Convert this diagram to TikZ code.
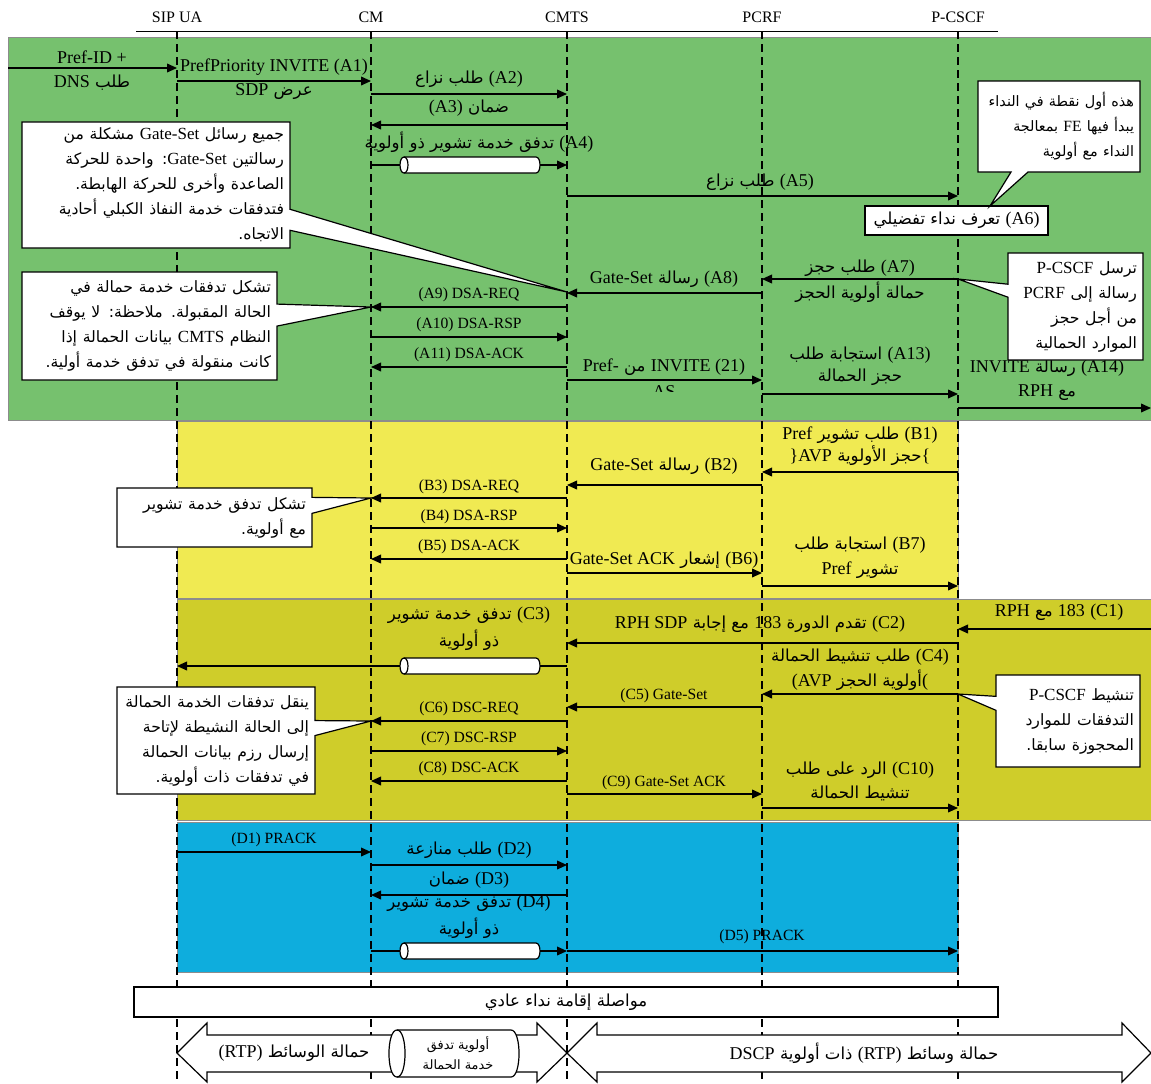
\documentclass[tikz,border=0pt]{standalone}
\usepackage{fontspec}
\setmainfont{Liberation Serif}
\newfontfamily\arabicfont[Script=Arabic,Scale=0.92]{DejaVu Sans}
\TeXXeTstate=1
\usetikzlibrary{arrows.meta,shapes.callouts}

\definecolor{grnzone}{RGB}{118,193,110}
\definecolor{ylwzone}{RGB}{240,234,82}
\definecolor{olvzone}{RGB}{207,205,42}
\definecolor{bluzone}{RGB}{14,173,221}

\newcommand\artx[1]{\mbox{\arabicfont\beginR #1\endR}}
\newcommand\lat[1]{\beginL{\rmfamily #1}\endL{}}

\tikzset{
    msg/.style={line width=0.6pt,-{Triangle[length=5pt,width=4.4pt]}},
    life/.style={line width=0.7pt,dash pattern=on 4pt off 2.5pt},
    lbl/.style={inner sep=0pt,font=\fontsize{9}{11}\selectfont},
    slbl/.style={inner sep=0pt,font=\fontsize{7.8}{9}\selectfont},
    note/.style={rectangle callout,draw,fill=white,line width=0.6pt,inner sep=3pt,
        align=right,font=\fontsize{8.5}{12.5}\selectfont},
    plainbox/.style={draw,fill=white,line width=0.6pt,inner sep=0pt,font=\fontsize{9}{11}\selectfont},
    zone/.style={draw=black!45,line width=0.5pt},
    pipe/.pic={
        \filldraw[fill=white,line width=0.6pt] (-66,-8) -- (66,-8)
            .. controls (71.3,-8) and (71.3,8) .. (66,8) -- (-66,8)
            .. controls (-71.3,8) and (-71.3,-8) .. (-66,-8) -- cycle;
        \draw[line width=0.6pt] (-66,-8) .. controls (-60.7,-8) and (-60.7,8) .. (-66,8);
    }
}

\begin{document}
\begin{tikzpicture}[x=0.5pt,y=-0.5pt]
\useasboundingbox (0,0) rectangle (1151,1083);
% Phases
\filldraw[zone,fill=grnzone] (8,37) rectangle (1151,420);
\filldraw[zone,fill=ylwzone] (177,421) rectangle (958,598);
\filldraw[zone,fill=olvzone] (177,599) rectangle (1151,820);
\filldraw[zone,fill=bluzone] (177,822) rectangle (958,972);
% Entities
\node[lbl,font=\fontsize{8}{9}\selectfont] (sipua) at (177,17) {SIP UA};
\node[lbl,font=\fontsize{8}{9}\selectfont] (cmhd) at (371,17) {CM};
\node[lbl,font=\fontsize{8}{9}\selectfont] (cmtshd) at (567,17) {CMTS};
\node[lbl,font=\fontsize{8}{9}\selectfont] (pcrfhd) at (762,17) {PCRF};
\node[lbl,font=\fontsize{8}{9}\selectfont] (pcscfhd) at (958,17) {P-CSCF};
\draw[line width=0.5pt] (136,31) -- (998,31);
\coordinate (sip) at (177,31);
\coordinate (cm) at (371,31);
\coordinate (cmts) at (567,31);
\coordinate (pcrf) at (762,31);
\coordinate (pcscf) at (958,31);
\coordinate (lft) at (8,31);
\coordinate (rgt) at (1151,31);
\foreach \l in {sip,cm,cmts,pcrf,pcscf}
    \draw[life] (\l) -- (\l |- 0,1083);

% Phase A
\draw[msg] (lft |- 0,68) -- (sip |- 0,68);
\node[lbl] (dnst) at (92,57) {Pref-ID +};
\node[lbl] (dnsb) at (92,83) {\artx{طلب \lat{DNS}}};
\draw[msg] (sip |- 0,81) -- (cm |- 0,81);
\node[lbl] (a1t) at (274,67) {PrefPriority INVITE (A1)};
\node[lbl] (a1b) at (274,92) {\artx{عرض \lat{SDP}}};
\draw[msg] (cm |- 0,94) -- (cmts |- 0,94);
\node[lbl] (a2) at (469,79) {\artx{\lat{(A2)} طلب نزاع}};
\draw[msg] (cmts |- 0,125) -- (cm |- 0,125);
\node[lbl] (a3) at (469,108) {\artx{ضمان \lat{(A3)}}};
\draw[msg] (cm |- 0,165) -- (cmts |- 0,165);
\pic at (470,165) {pipe};
\node[lbl] (a4) at (479,142) {\artx{\lat{(A4)} تدفق خدمة تشوير ذو أولوية}};
\draw[msg] (cmts |- 0,196) -- (pcscf |- 0,196);
\node[lbl] (a5) at (760,182) {\artx{\lat{(A5)} طلب نزاع}};
\node[plainbox,minimum width=91.5pt,minimum height=14.5pt] (a6) at (956.5,220.5) {\artx{\lat{(A6)} تعرف نداء تفضيلي}};
\draw[msg] (pcscf |- 0,279) -- (pcrf |- 0,279);
\node[lbl] (a7t) at (860,268) {\artx{\lat{(A7)} طلب حجز}};
\node[lbl] (a7b) at (860,292) {\artx{حمالة أولوية الحجز}};
\draw[msg] (pcrf |- 0,293) -- (cmts |- 0,293);
\node[lbl] (a8) at (664,279) {\artx{\lat{(A8)} رسالة \lat{Gate-Set}}};
\draw[msg] (cmts |- 0,307) -- (cm |- 0,307);
\node[slbl] (a9) at (469,295) {(A9) DSA-REQ};
\draw[msg] (cm |- 0,337) -- (cmts |- 0,337);
\node[slbl] (a10) at (469,325) {(A10) DSA-RSP};
\draw[msg] (cmts |- 0,367) -- (cm |- 0,367);
\node[slbl] (a11) at (469,355) {(A11) DSA-ACK};
\draw[msg] (cmts |- 0,380) -- (pcrf |- 0,380);
\node[lbl] (a12) at (664,367) {\artx{\lat{INVITE (21)} من \lat{Pref-}}};
\begin{scope}
\clip (630,380) rectangle (700,391);
\node[lbl,anchor=north] (a12s) at (664,385) {AS};
\end{scope}
\draw[msg] (pcrf |- 0,394) -- (pcscf |- 0,394);
\node[lbl] (a13t) at (860,355) {\artx{\lat{(A13)} استجابة طلب}};
\node[lbl] (a13b) at (860,377) {\artx{حجز الحمالة}};
\draw[msg] (pcscf |- 0,408) -- (rgt |- 0,408);
\node[lbl] (a14t) at (1047,368) {\artx{\lat{(A14)} رسالة \lat{INVITE}}};
\node[lbl] (a14b) at (1047,393) {\artx{مع \lat{RPH}}};

% Phase B
\draw[msg] (pcscf |- 0,472) -- (pcrf |- 0,472);
\node[lbl] (b1t) at (860,435) {\artx{\lat{(B1)} طلب تشوير \lat{Pref}}};
\node[lbl] (b1b) at (860,456) {\artx{\lat{\{}حجز الأولوية \lat{\}AVP}}};
\draw[msg] (pcrf |- 0,485) -- (cmts |- 0,485);
\node[lbl] (b2) at (664,466) {\artx{\lat{(B2)} رسالة \lat{Gate-Set}}};
\draw[msg] (cmts |- 0,498) -- (cm |- 0,498);
\node[slbl] (b3) at (469,487) {(B3) DSA-REQ};
\draw[msg] (cm |- 0,528) -- (cmts |- 0,528);
\node[slbl] (b4) at (469,517) {(B4) DSA-RSP};
\draw[msg] (cmts |- 0,559) -- (cm |- 0,559);
\node[slbl] (b5) at (469,547) {(B5) DSA-ACK};
\draw[msg] (cmts |- 0,573) -- (pcrf |- 0,573);
\node[lbl] (b6) at (664,560) {\artx{\lat{(B6)} إشعار \lat{Gate-Set ACK}}};
\draw[msg] (pcrf |- 0,586) -- (pcscf |- 0,586);
\node[lbl] (b7t) at (860,545) {\artx{\lat{(B7)} استجابة طلب}};
\node[lbl] (b7b) at (860,570) {\artx{تشوير \lat{Pref}}};

% Phase C
\draw[msg] (rgt |- 0,629) -- (pcscf |- 0,629);
\node[lbl] (c1) at (1059,612) {\artx{\lat{(C1)} \lat{183} مع \lat{RPH}}};
\draw[msg] (pcscf |- 0,643) -- (cmts |- 0,643);
\node[lbl] (c2) at (760,624) {\artx{\lat{(C2)} تقدم الدورة \lat{183} مع إجابة \lat{RPH SDP}}};
\draw[msg] (cmts |- 0,666) -- (sip |- 0,666);
\pic at (470,666) {pipe};
\node[lbl] (c3t) at (469,615) {\artx{\lat{(C3)} تدفق خدمة تشوير}};
\node[lbl] (c3b) at (469,640) {\artx{ذو أولوية}};
\draw[msg] (pcscf |- 0,694) -- (pcrf |- 0,694);
\node[lbl] (c4t) at (860,657) {\artx{\lat{(C4)} طلب تنشيط الحمالة}};
\node[lbl] (c4b) at (860,680) {\artx{\lat{(}أولوية الحجز \lat{(AVP}}};
\draw[msg] (pcrf |- 0,707) -- (cmts |- 0,707);
\node[slbl] (c5) at (664,696) {(C5) Gate-Set};
\draw[msg] (cmts |- 0,721) -- (cm |- 0,721);
\node[slbl] (c6) at (469,709) {(C6) DSC-REQ};
\draw[msg] (cm |- 0,751) -- (cmts |- 0,751);
\node[slbl] (c7) at (469,739) {(C7) DSC-RSP};
\draw[msg] (cmts |- 0,781) -- (cm |- 0,781);
\node[slbl] (c8) at (469,769) {(C8) DSC-ACK};
\draw[msg] (cmts |- 0,794) -- (pcrf |- 0,794);
\node[slbl] (c9) at (664,783) {(C9) Gate-Set ACK};
\draw[msg] (pcrf |- 0,808) -- (pcscf |- 0,808);
\node[lbl] (c10t) at (860,770) {\artx{\lat{(C10)} الرد على طلب}};
\node[lbl] (c10b) at (860,793) {\artx{تنشيط الحمالة}};

% Phase D
\draw[msg] (sip |- 0,852) -- (cm |- 0,852);
\node[slbl] (d1) at (274,840) {(D1) PRACK};
\draw[msg] (cm |- 0,865) -- (cmts |- 0,865);
\node[lbl] (d2) at (469,850) {\artx{\lat{(D2)} طلب منازعة}};
\draw[msg] (cmts |- 0,895) -- (cm |- 0,895);
\node[lbl] (d3) at (469,880) {\artx{\lat{(D3)} ضمان}};
\draw[msg] (cm |- 0,951) -- (cmts |- 0,951);
\pic at (470,951) {pipe};
\node[lbl] (d4t) at (469,903) {\artx{\lat{(D4)} تدفق خدمة تشوير}};
\node[lbl] (d4b) at (469,928) {\artx{ذو أولوية}};
\draw[msg] (cmts |- 0,951) -- (pcscf |- 0,951);
\node[slbl] (d5) at (762,937) {(D5) PRACK};

% Notes
\node[note,font=\fontsize{7.8}{12.5}\selectfont,minimum width=81pt,minimum height=45.5pt,text width=75pt,
    callout absolute pointer={(990,206)},callout pointer width=8.5pt] (fenote) at (1059,126.5)
    {\artx{هذه أول نقطة في النداء}\\\artx{يبدأ فيها \lat{FE} بمعالجة}\\\artx{النداء مع أولوية}};
\node[note,minimum width=134pt,minimum height=63pt,text width=128pt,
    callout absolute pointer={(567,292)},callout pointer width=10.5pt] (gsnote) at (156,185)
    {\artx{جميع رسائل \lat{Gate-Set} مشكلة من}\\\artx{رسالتين \lat{Gate-Set}: واحدة للحركة}\\
     \artx{الصاعدة وأخرى للحركة الهابطة.}\\\artx{فتدفقات خدمة النفاذ الكبلي أحادية}\\\artx{الاتجاه.}};
\node[note,minimum width=67.5pt,minimum height=53.5pt,text width=61.5pt,
    callout absolute pointer={(958,279)},callout pointer width=6.5pt] (rsvnote) at (1075.5,306.5)
    {\artx{ترسل \lat{P-CSCF}}\\\artx{رسالة إلى \lat{PCRF}}\\\artx{من أجل حجز}\\\artx{الموارد الحمالية}};
\node[note,minimum width=127.5pt,minimum height=54pt,text width=121.5pt,
    callout absolute pointer={(371,307)},callout pointer width=11pt] (dsanote) at (149.5,326)
    {\artx{تشكل تدفقات خدمة حمالة في}\\\artx{الحالة المقبولة. ملاحظة: لا يوقف}\\
     \artx{النظام \lat{CMTS} بيانات الحمالة إذا}\\\artx{كانت منقولة في تدفق خدمة أولية.}};
\node[note,minimum width=97.5pt,minimum height=29.5pt,text width=91.5pt,
    callout absolute pointer={(371,498)},callout pointer width=8pt] (sfnote) at (214.5,517.5)
    {\artx{تشكل تدفق خدمة تشوير}\\\artx{مع أولوية.}};
\node[note,minimum width=99pt,minimum height=53.5pt,text width=93pt,
    callout absolute pointer={(371,721)},callout pointer width=7.5pt] (dscnote) at (216,740.5)
    {\artx{ينقل تدفقات الخدمة الحمالة}\\\artx{إلى الحالة النشيطة لإتاحة}\\
     \artx{إرسال رزم بيانات الحمالة}\\\artx{في تدفقات ذات أولوية.}};
\node[note,minimum width=72pt,minimum height=46pt,text width=66pt,
    callout absolute pointer={(958,694)},callout pointer width=7pt] (actnote) at (1068,721)
    {\artx{تنشيط \lat{P-CSCF}}\\\artx{التدفقات للموارد}\\\artx{المحجوزة سابقا.}};

% Call continues and media
\node[plainbox,minimum width=432pt,minimum height=15pt] (goon) at (566,1002) {\artx{مواصلة إقامة نداء عادي}};
\filldraw[fill=white,line width=0.6pt] (177,1053) -- (207,1023) -- (207,1035) -- (537,1035) -- (537,1023)
    -- (567,1053) -- (537,1082) -- (537,1072) -- (207,1072) -- (207,1082) -- cycle;
\filldraw[fill=white,line width=0.6pt] (567,1053) -- (597,1023) -- (597,1035) -- (1122,1035) -- (1122,1023)
    -- (1151,1053) -- (1122,1082) -- (1122,1072) -- (597,1072) -- (597,1082) -- cycle;
\filldraw[fill=white,line width=0.6pt] (397,1030) -- (511,1030) .. controls (521.7,1030) and (521.7,1077) .. (511,1077)
    -- (397,1077) .. controls (386.3,1077) and (386.3,1030) .. (397,1030) -- cycle;
\draw[line width=0.6pt] (397,1030) .. controls (407.7,1030) and (407.7,1077) .. (397,1077);
\node[lbl] (rtpl) at (294,1053) {\artx{حمالة الوسائط \lat{(RTP)}}};
\node[inner sep=0pt,align=center,font=\fontsize{7}{10}\selectfont] (pfl) at (458,1053) {\artx{أولوية تدفق}\\\artx{خدمة الحمالة}};
\node[lbl] (rtpr) at (864,1053) {\artx{حمالة وسائط \lat{(RTP)} ذات أولوية \lat{DSCP}}};
\end{tikzpicture}
\end{document}
